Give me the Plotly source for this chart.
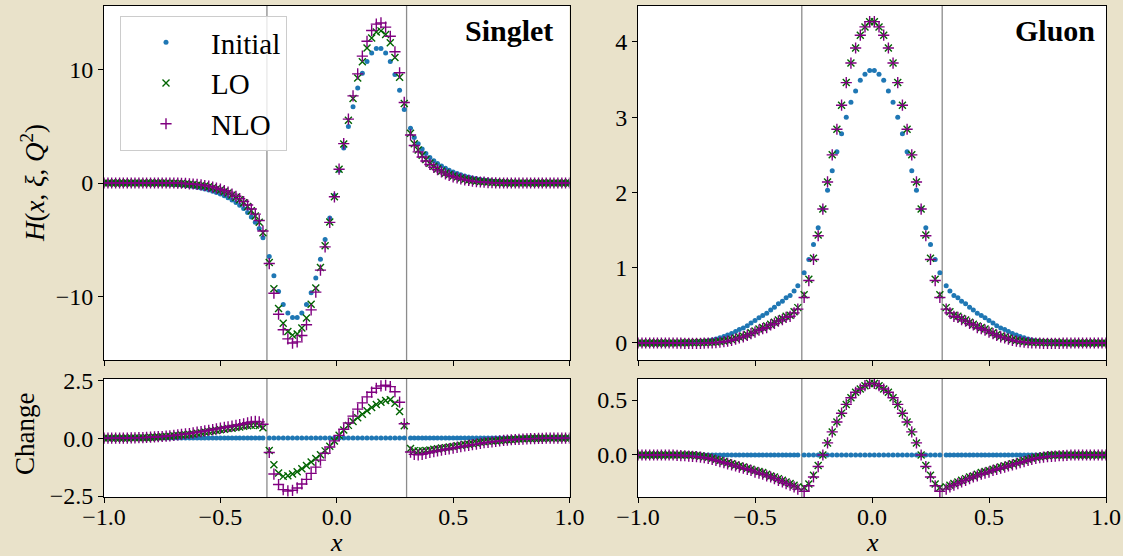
import plotly.graph_objects as go

# ---------------- data ----------------
x_grid = [
    -1.000, -0.983, -0.967, -0.950, -0.933, -0.917, -0.900, -0.883, -0.867, -0.850,
    -0.833, -0.817, -0.800, -0.783, -0.767, -0.750, -0.733, -0.717, -0.700, -0.683,
    -0.667, -0.650, -0.633, -0.617, -0.600, -0.583, -0.567, -0.550, -0.533, -0.517,
    -0.500, -0.483, -0.467, -0.450, -0.433, -0.417, -0.400, -0.383, -0.367, -0.350,
    -0.333, -0.317,
    -0.29, -0.27, -0.25, -0.23, -0.21, -0.19, -0.17, -0.15, -0.13, -0.11,
    -0.09, -0.07, -0.05, -0.03, -0.01, 0.01, 0.03, 0.05, 0.07, 0.09,
    0.11, 0.13, 0.15, 0.17, 0.19, 0.21, 0.23, 0.25, 0.27, 0.29,
    0.317, 0.333, 0.350, 0.367, 0.383, 0.400, 0.417, 0.433, 0.450, 0.467,
    0.483, 0.500, 0.517, 0.533, 0.550, 0.567, 0.583, 0.600, 0.617, 0.633,
    0.650, 0.667, 0.683, 0.700, 0.717, 0.733, 0.750, 0.767, 0.783, 0.800,
    0.817, 0.833, 0.850, 0.867, 0.883, 0.900, 0.917, 0.933, 0.950, 0.967,
    0.983, 1.000,
]

singlet_initial = [
    0, 0, 0, 0, 0, 0, 0, 0, -0.01, -0.01,
    -0.02, -0.02, -0.03, -0.04, -0.05, -0.06, -0.08, -0.10, -0.12, -0.15,
    -0.18, -0.22, -0.27, -0.32, -0.38, -0.45, -0.53, -0.62, -0.73, -0.85,
    -0.98, -1.13, -1.30, -1.50, -1.72, -1.97, -2.26, -2.60, -3.00, -3.47,
    -4.02, -4.85,
    -6.5, -8.2, -9.6, -10.75, -11.5, -11.9, -11.9, -11.5, -10.75, -9.7,
    -8.4, -6.75, -5.0, -3.1, -1.1, 1.1, 3.1, 5.0, 6.75, 8.4,
    9.7, 10.75, 11.5, 11.9, 11.9, 11.5, 10.75, 9.6, 8.2, 6.5,
    4.85, 4.02, 3.47, 3.00, 2.60, 2.26, 1.97, 1.72, 1.50, 1.30,
    1.13, 0.98, 0.85, 0.73, 0.62, 0.53, 0.45, 0.38, 0.32, 0.27,
    0.22, 0.18, 0.15, 0.12, 0.10, 0.08, 0.06, 0.05, 0.04, 0.03,
    0.02, 0.02, 0.01, 0.01, 0, 0, 0, 0, 0, 0,
    0, 0,
]
singlet_lo = [
    0, 0, 0, 0, 0, 0, 0, 0, 0, 0,
    0, 0, 0, 0, 0, 0, -0.01, -0.02, -0.02, -0.04,
    -0.05, -0.08, -0.11, -0.14, -0.17, -0.22, -0.27, -0.34, -0.42, -0.52,
    -0.62, -0.75, -0.89, -1.07, -1.26, -1.49, -1.75, -2.07, -2.45, -2.91,
    -3.48, -4.40,
    -7.03, -9.35, -11.10, -12.40, -13.12, -13.45, -13.35, -12.82, -11.93, -10.73,
    -9.28, -7.47, -5.55, -3.45, -1.22, 1.22, 3.45, 5.55, 7.47, 9.28,
    10.73, 11.93, 12.82, 13.35, 13.45, 13.12, 12.40, 11.10, 9.35, 7.03,
    4.40, 3.48, 2.91, 2.45, 2.07, 1.75, 1.49, 1.26, 1.07, 0.89,
    0.75, 0.62, 0.52, 0.42, 0.34, 0.27, 0.22, 0.17, 0.14, 0.11,
    0.08, 0.05, 0.04, 0.02, 0.02, 0.01, 0, 0, 0, 0,
    0, 0, 0, 0, 0, 0, 0, 0, 0, 0,
    0, 0,
]
singlet_nlo = [
    0, 0, 0, 0, 0, 0, 0, 0, 0, 0,
    0, 0, 0, 0, 0, 0, 0, 0, 0, -0.01,
    -0.02, -0.04, -0.07, -0.09, -0.12, -0.17, -0.22, -0.28, -0.36, -0.45,
    -0.55, -0.67, -0.81, -0.98, -1.17, -1.39, -1.64, -1.94, -2.30, -2.75,
    -3.32, -4.25,
    -7.12, -9.75, -11.60, -12.97, -13.78, -14.15, -14.05, -13.48, -12.53, -11.22,
    -9.65, -7.70, -5.65, -3.48, -1.22, 1.22, 3.48, 5.65, 7.70, 9.65,
    11.22, 12.53, 13.48, 14.05, 14.15, 13.78, 12.97, 11.60, 9.75, 7.12,
    4.25, 3.32, 2.75, 2.30, 1.94, 1.64, 1.39, 1.17, 0.98, 0.81,
    0.67, 0.55, 0.45, 0.36, 0.28, 0.22, 0.17, 0.12, 0.09, 0.07,
    0.04, 0.02, 0.01, 0, 0, 0, 0, 0, 0, 0,
    0, 0, 0, 0, 0, 0, 0, 0, 0, 0,
    0, 0,
]
singlet_change_lo = [
    0, 0, 0, 0, 0, 0, 0, 0.01, 0.01, 0.01,
    0.02, 0.02, 0.03, 0.04, 0.05, 0.06, 0.07, 0.08, 0.10, 0.11,
    0.13, 0.14, 0.16, 0.18, 0.21, 0.23, 0.26, 0.28, 0.31, 0.33,
    0.36, 0.38, 0.41, 0.43, 0.46, 0.48, 0.51, 0.53, 0.55, 0.56,
    0.54, 0.45,
    -0.53, -1.15, -1.50, -1.65, -1.62, -1.55, -1.45, -1.32, -1.18, -1.03,
    -0.88, -0.72, -0.55, -0.35, -0.12, 0.12, 0.35, 0.55, 0.72, 0.88,
    1.03, 1.18, 1.32, 1.45, 1.55, 1.62, 1.65, 1.50, 1.15, 0.53,
    -0.45, -0.54, -0.56, -0.55, -0.53, -0.51, -0.48, -0.46, -0.43, -0.41,
    -0.38, -0.36, -0.33, -0.31, -0.28, -0.26, -0.23, -0.21, -0.18, -0.16,
    -0.14, -0.13, -0.11, -0.10, -0.08, -0.07, -0.06, -0.05, -0.04, -0.03,
    -0.02, -0.02, -0.01, -0.01, -0.01, 0, 0, 0, 0, 0,
    0, 0,
]
singlet_change_nlo = [
    0, 0, 0, 0, 0, 0, 0, 0.01, 0.01, 0.02,
    0.02, 0.03, 0.04, 0.05, 0.06, 0.07, 0.09, 0.10, 0.12, 0.14,
    0.16, 0.18, 0.20, 0.23, 0.26, 0.28, 0.31, 0.34, 0.37, 0.40,
    0.43, 0.46, 0.49, 0.52, 0.55, 0.58, 0.62, 0.66, 0.70, 0.72,
    0.70, 0.60,
    -0.62, -1.55, -2.00, -2.22, -2.28, -2.25, -2.15, -1.98, -1.78, -1.52,
    -1.25, -0.95, -0.65, -0.38, -0.12, 0.12, 0.38, 0.65, 0.95, 1.25,
    1.52, 1.78, 1.98, 2.15, 2.25, 2.28, 2.22, 2.00, 1.55, 0.62,
    -0.60, -0.70, -0.72, -0.70, -0.66, -0.62, -0.58, -0.55, -0.52, -0.49,
    -0.46, -0.43, -0.40, -0.37, -0.34, -0.31, -0.28, -0.26, -0.23, -0.20,
    -0.18, -0.16, -0.14, -0.12, -0.10, -0.09, -0.07, -0.06, -0.05, -0.04,
    -0.03, -0.02, -0.02, -0.01, -0.01, 0, 0, 0, 0, 0,
    0, 0,
]

gluon_initial = [
    0, 0, 0, 0, 0, 0, 0, 0, 0, 0,
    0.001, 0.002, 0.003, 0.005, 0.007, 0.010, 0.015, 0.023, 0.031, 0.041,
    0.053, 0.070, 0.087, 0.105, 0.126, 0.152, 0.178, 0.200, 0.230, 0.265,
    0.300, 0.335, 0.365, 0.395, 0.440, 0.475, 0.520, 0.555, 0.600, 0.630,
    0.690, 0.760,
    0.935, 1.11, 1.31, 1.53, 1.78, 2.03, 2.29, 2.54, 2.78, 3.00,
    3.20, 3.35, 3.49, 3.57, 3.62, 3.62, 3.57, 3.49, 3.35, 3.20,
    3.00, 2.78, 2.54, 2.29, 2.03, 1.78, 1.53, 1.31, 1.11, 0.935,
    0.760, 0.690, 0.630, 0.600, 0.555, 0.520, 0.475, 0.440, 0.395, 0.365,
    0.335, 0.300, 0.265, 0.230, 0.200, 0.178, 0.152, 0.126, 0.105, 0.087,
    0.070, 0.053, 0.041, 0.031, 0.023, 0.015, 0.010, 0.007, 0.005, 0.003,
    0.002, 0.001, 0, 0, 0, 0, 0, 0, 0, 0,
    0, 0,
]
gluon_lo = [
    0, 0, 0, 0, 0, 0, 0, 0, 0, 0,
    0.001, 0.002, 0.003, 0.004, 0.005, 0.005, 0.006, 0.007, 0.009, 0.011,
    0.014, 0.020, 0.027, 0.035, 0.046, 0.062, 0.078, 0.090, 0.110, 0.135,
    0.160, 0.185, 0.205, 0.225, 0.250, 0.275, 0.305, 0.325, 0.355, 0.370,
    0.415, 0.470,
    0.64, 0.846, 1.125, 1.435, 1.78, 2.14, 2.50, 2.84, 3.16, 3.46,
    3.72, 3.92, 4.09, 4.20, 4.27, 4.27, 4.20, 4.09, 3.92, 3.72,
    3.46, 3.16, 2.84, 2.50, 2.14, 1.78, 1.435, 1.125, 0.846, 0.64,
    0.470, 0.415, 0.370, 0.355, 0.325, 0.305, 0.275, 0.250, 0.225, 0.205,
    0.185, 0.160, 0.135, 0.110, 0.090, 0.078, 0.062, 0.046, 0.035, 0.027,
    0.020, 0.014, 0.011, 0.009, 0.007, 0.006, 0.005, 0.005, 0.004, 0.003,
    0.002, 0.001, 0, 0, 0, 0, 0, 0, 0, 0,
    0, 0,
]
gluon_nlo = [
    0, 0, 0, 0, 0, 0, 0, 0, 0, 0,
    -0.002, -0.003, -0.004, -0.005, -0.005, -0.005, -0.005, -0.003, 0.000, 0.001,
    0.004, 0.010, 0.017, 0.025, 0.036, 0.052, 0.068, 0.080, 0.100, 0.125,
    0.145, 0.170, 0.190, 0.205, 0.240, 0.260, 0.290, 0.310, 0.340, 0.355,
    0.400, 0.450,
    0.605, 0.83, 1.11, 1.425, 1.78, 2.14, 2.50, 2.84, 3.16, 3.46,
    3.72, 3.92, 4.09, 4.20, 4.27, 4.27, 4.20, 4.09, 3.92, 3.72,
    3.46, 3.16, 2.84, 2.50, 2.14, 1.78, 1.425, 1.11, 0.83, 0.605,
    0.450, 0.400, 0.355, 0.340, 0.310, 0.290, 0.260, 0.240, 0.205, 0.190,
    0.170, 0.145, 0.125, 0.100, 0.080, 0.068, 0.052, 0.036, 0.025, 0.017,
    0.010, 0.004, 0.001, 0.000, -0.003, -0.005, -0.005, -0.005, -0.005, -0.004,
    -0.003, -0.002, 0, 0, 0, 0, 0, 0, 0, 0,
    0, 0,
]
gluon_change_lo = [
    0, 0, 0, 0, 0, 0, 0, 0, 0, 0,
    0, 0, 0, 0, 0, -0.005, -0.01, -0.015, -0.02, -0.03,
    -0.04, -0.05, -0.06, -0.07, -0.08, -0.09, -0.10, -0.11, -0.12, -0.13,
    -0.14, -0.15, -0.16, -0.175, -0.19, -0.20, -0.215, -0.23, -0.245, -0.26,
    -0.275, -0.29,
    -0.295, -0.264, -0.185, -0.095, 0.0, 0.11, 0.21, 0.30, 0.38, 0.46,
    0.52, 0.57, 0.60, 0.63, 0.65, 0.65, 0.63, 0.60, 0.57, 0.52,
    0.46, 0.38, 0.30, 0.21, 0.11, 0.0, -0.095, -0.185, -0.264, -0.295,
    -0.29, -0.275, -0.26, -0.245, -0.23, -0.215, -0.20, -0.19, -0.175, -0.16,
    -0.15, -0.14, -0.13, -0.12, -0.11, -0.10, -0.09, -0.08, -0.07, -0.06,
    -0.05, -0.04, -0.03, -0.02, -0.015, -0.01, -0.005, 0, 0, 0,
    0, 0, 0, 0, 0, 0, 0, 0, 0, 0,
    0, 0,
]
gluon_change_nlo = [
    0, 0, 0, 0, 0, 0, 0, 0, 0, 0,
    -0.003, -0.005, -0.007, -0.01, -0.012, -0.015, -0.02, -0.025, -0.03, -0.04,
    -0.05, -0.06, -0.07, -0.08, -0.09, -0.10, -0.11, -0.12, -0.13, -0.14,
    -0.155, -0.165, -0.175, -0.19, -0.20, -0.215, -0.23, -0.245, -0.26, -0.275,
    -0.29, -0.31,
    -0.33, -0.28, -0.20, -0.105, 0.0, 0.11, 0.21, 0.30, 0.38, 0.46,
    0.52, 0.57, 0.60, 0.63, 0.65, 0.65, 0.63, 0.60, 0.57, 0.52,
    0.46, 0.38, 0.30, 0.21, 0.11, 0.0, -0.105, -0.20, -0.28, -0.33,
    -0.31, -0.29, -0.275, -0.26, -0.245, -0.23, -0.215, -0.20, -0.19, -0.175,
    -0.165, -0.155, -0.14, -0.13, -0.12, -0.11, -0.10, -0.09, -0.08, -0.07,
    -0.06, -0.05, -0.04, -0.03, -0.025, -0.02, -0.015, -0.012, -0.01, -0.007,
    -0.005, -0.003, 0, 0, 0, 0, 0, 0, 0, 0,
    0, 0,
]
initial_change = [0.0] * len(x_grid)

x_ticks = [-1.0, -0.5, 0.0, 0.5, 1.0]
x_tick_labels = ["\u22121.0", "\u22120.5", "0.0", "0.5", "1.0"]
singlet_ticks = [-10, 0, 10]
singlet_tick_labels = ["\u221210", "0", "10"]
singlet_change_ticks = [-2.5, 0.0, 2.5]
singlet_change_labels = ["\u22122.5", "0.0", "2.5"]
gluon_ticks = [0, 1, 2, 3, 4]
gluon_tick_labels = ["0", "1", "2", "3", "4"]
gluon_change_ticks = [0.0, 0.5]
gluon_change_labels = ["0.0", "0.5"]
boundaries = [-0.3, 0.3]

series_names = ["Initial", "LO", "NLO"]

# ---------------- styling ----------------
W, H = 1123, 556
FONT = "Liberation Serif"
BG = "#E9E2CA"
BLUE = "#1f77b4"
GREEN = "#006400"
PURPLE = "#800080"


def px(v):
    return v / W


def py(v):
    return 1 - v / H


LEFT = (104, 569.5)
RIGHT = (638, 1106)
MAIN = (6, 360)
CHG = (379, 497)

fig = go.Figure()

styles = [
    dict(symbol="circle", size=5, color=BLUE, line=dict(width=0)),
    dict(symbol="x-thin", size=7, color=GREEN, line=dict(width=1.4, color=GREEN)),
    dict(symbol="cross-thin", size=8, color=PURPLE, line=dict(width=1.4, color=PURPLE)),
]

panels = [
    ("x", "y", [singlet_initial, singlet_lo, singlet_nlo], True),
    ("x2", "y2", [initial_change, singlet_change_lo, singlet_change_nlo], False),
    ("x3", "y3", [gluon_initial, gluon_lo, gluon_nlo], False),
    ("x4", "y4", [initial_change, gluon_change_lo, gluon_change_nlo], False),
]

for xa, ya, series, show in panels:
    for name, vals, st in zip(series_names, series, styles):
        fig.add_trace(go.Scatter(
            x=x_grid, y=vals, mode="markers", name=name,
            marker=st, xaxis=xa, yaxis=ya, showlegend=show,
        ))

axis_common = dict(
    showline=True, mirror=True, linecolor="black", linewidth=1,
    ticks="outside", ticklen=5, tickwidth=1, tickcolor="black",
    showgrid=False, zeroline=False, automargin=False,
    tickfont=dict(family=FONT, size=24, color="black"),
)

fig.update_layout(
    width=W, height=H,
    margin=dict(l=0, r=0, t=0, b=0, autoexpand=False),
    paper_bgcolor=BG, plot_bgcolor="white",
    xaxis=dict(axis_common, domain=[px(LEFT[0]), px(LEFT[1])], range=[-1, 1],
               tickvals=x_ticks, showticklabels=False, anchor="y"),
    yaxis=dict(axis_common, domain=[py(MAIN[1]), py(MAIN[0])], range=[-15.65, 15.65],
               tickvals=singlet_ticks, ticktext=singlet_tick_labels, anchor="x"),
    xaxis2=dict(axis_common, domain=[px(LEFT[0]), px(LEFT[1])], range=[-1, 1],
                tickvals=x_ticks, ticktext=x_tick_labels, anchor="y2",
                ticklabelstandoff=-7),
    yaxis2=dict(axis_common, domain=[py(CHG[1]), py(CHG[0])], range=[-2.54, 2.55],
                tickvals=singlet_change_ticks, ticktext=singlet_change_labels, anchor="x2"),
    xaxis3=dict(axis_common, domain=[px(RIGHT[0]), px(RIGHT[1])], range=[-1, 1],
                tickvals=x_ticks, showticklabels=False, anchor="y3"),
    yaxis3=dict(axis_common, domain=[py(MAIN[1]), py(MAIN[0])], range=[-0.226, 4.478],
                tickvals=gluon_ticks, ticktext=gluon_tick_labels, anchor="x3"),
    xaxis4=dict(axis_common, domain=[px(RIGHT[0]), px(RIGHT[1])], range=[-1, 1],
                tickvals=x_ticks, ticktext=x_tick_labels, anchor="y4",
                ticklabelstandoff=-7),
    yaxis4=dict(axis_common, domain=[py(CHG[1]), py(CHG[0])], range=[-0.382, 0.691],
                tickvals=gluon_change_ticks, ticktext=gluon_change_labels, anchor="x4"),
    legend=dict(
        x=px(120), y=py(16), xanchor="left", yanchor="top",
        bgcolor="rgba(255,255,255,0.8)", bordercolor="#cccccc", borderwidth=1,
        font=dict(family=FONT, size=29, color="black"),
        itemwidth=80, tracegroupgap=0,
    ),
)

shapes = []
for xa, ya in [("x", "y"), ("x2", "y2"), ("x3", "y3"), ("x4", "y4")]:
    for b in boundaries:
        shapes.append(dict(
            type="line", xref=xa, yref=f"{ya} domain", x0=b, x1=b, y0=0, y1=1,
            line=dict(color="#8c8c8c", width=1.3), layer="below",
        ))
fig.update_layout(shapes=shapes)

annotations = [
    dict(text="<b>Singlet</b>", x=px(555), y=py(30), xanchor="right", yanchor="middle",
         font=dict(family=FONT, size=30, color="black")),
    dict(text="<b>Gluon</b>", x=px(1097), y=py(30), xanchor="right", yanchor="middle",
         font=dict(family=FONT, size=30, color="black")),
    dict(text="<i>H</i>(<i>x</i>, <i>\u03be</i>, <i>Q</i><sup>2</sup>)", x=px(33), y=py(183),
         textangle=-90, xanchor="center", yanchor="middle",
         font=dict(family=FONT, size=27, color="black")),
    dict(text="Change", x=px(25), y=py(434), textangle=-90, xanchor="center", yanchor="middle",
         font=dict(family=FONT, size=27, color="black")),
    dict(text="<i>x</i>", x=px(336.7), y=py(542), xanchor="center", yanchor="middle",
         font=dict(family=FONT, size=26, color="black")),
    dict(text="<i>x</i>", x=px(872), y=py(542), xanchor="center", yanchor="middle",
         font=dict(family=FONT, size=26, color="black")),
]
for a in annotations:
    a.update(xref="paper", yref="paper", showarrow=False)
fig.update_layout(annotations=annotations)

fig.write_html("out.html")
